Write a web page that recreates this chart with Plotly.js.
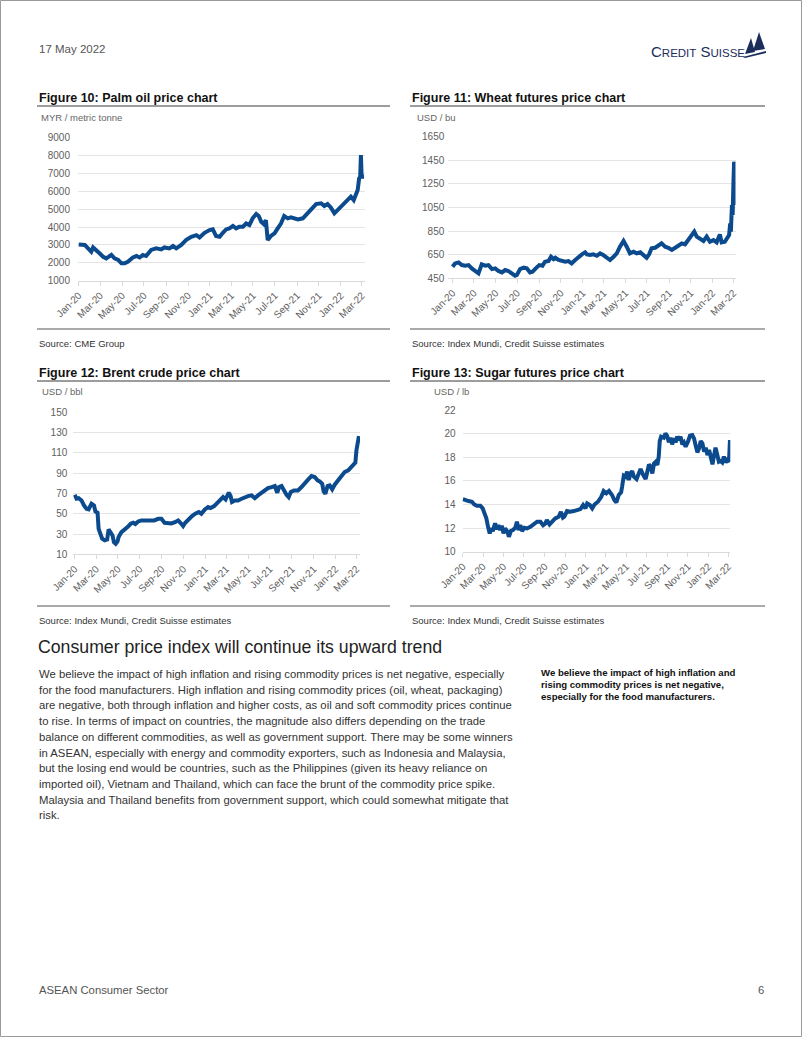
<!DOCTYPE html>
<html>
<head>
<meta charset="utf-8">
<script src="https://cdn.plot.ly/plotly-3.0.1.min.js"></script>
<style>
  html, body { margin: 0; padding: 0; background: #ffffff; }
  #page { width: 802px; height: 1037px; }
</style>
</head>
<body>
<div id="page"></div>
<script>
// ---------------- DATA ----------------
const xTickVals = ['2020-01-01','2020-03-01','2020-05-01','2020-07-01','2020-09-01','2020-11-01',
                   '2021-01-01','2021-03-01','2021-05-01','2021-07-01','2021-09-01','2021-11-01',
                   '2022-01-01','2022-03-01'];
const xTickText = ['Jan-20','Mar-20','May-20','Jul-20','Sep-20','Nov-20',
                   'Jan-21','Mar-21','May-21','Jul-21','Sep-21','Nov-21',
                   'Jan-22','Mar-22'];

// Figure 10: Palm oil (MYR / metric tonne)
const palmDates = ['2020-01-01','2020-01-18','2020-01-27','2020-02-05','2020-02-10','2020-02-19','2020-02-28','2020-03-09','2020-03-18','2020-04-01',
  '2020-04-10','2020-04-20','2020-04-29','2020-05-08','2020-05-17','2020-05-31','2020-06-10','2020-06-19','2020-06-28','2020-07-07',
  '2020-07-21','2020-08-04','2020-08-18','2020-08-27','2020-09-10','2020-09-20','2020-09-29','2020-10-13','2020-10-27','2020-11-10',
  '2020-11-24','2020-12-03','2020-12-17','2020-12-31','2021-01-09','2021-01-18','2021-01-28','2021-02-06','2021-02-15','2021-02-24',
  '2021-03-06','2021-03-15','2021-03-24','2021-04-03','2021-04-12','2021-04-21','2021-04-30','2021-05-10','2021-05-17','2021-05-24',
  '2021-05-31','2021-06-06','2021-06-11','2021-06-20','2021-06-30','2021-07-09','2021-07-18','2021-07-27','2021-08-06','2021-08-15',
  '2021-08-24','2021-09-03','2021-09-17','2021-09-26','2021-10-05','2021-10-14','2021-10-24','2021-11-07','2021-11-16','2021-11-25',
  '2021-12-04','2021-12-14','2021-12-23','2022-01-01','2022-01-11','2022-01-20','2022-01-29','2022-02-06','2022-02-12','2022-02-17',
  '2022-02-21','2022-02-24','2022-02-26','2022-02-28','2022-03-07'];
const palmValues = [3030,3000,2810,2620,2860,2720,2530,2340,2250,2440,
  2250,2160,1970,1970,2060,2300,2380,2300,2440,2380,
  2720,2810,2750,2860,2810,2940,2810,3000,3280,3460,
  3550,3420,3680,3830,3870,3500,3460,3680,3870,3930,
  4060,3930,4020,4020,4200,4110,4490,4730,4620,4300,
  4170,4390,3270,3500,3650,3930,4200,4620,4490,4550,
  4490,4430,4490,4680,4950,5100,5290,5330,5180,5290,
  5100,4770,4950,5140,5330,5510,5700,5510,5800,6070,
  6720,6820,8030,6820,6820];

// Figure 11: Wheat futures (USD / bu)
const wheatDates = ['2020-01-01','2020-01-08','2020-01-18','2020-01-27','2020-02-06','2020-02-15','2020-02-24','2020-03-05','2020-03-14','2020-03-23',
  '2020-04-02','2020-04-11','2020-04-21','2020-04-30','2020-05-09','2020-05-19','2020-05-28','2020-06-06','2020-06-16','2020-06-25',
  '2020-06-30','2020-07-09','2020-07-19','2020-07-28','2020-08-06','2020-08-13','2020-08-22','2020-09-01','2020-09-10','2020-09-17',
  '2020-09-27','2020-10-04','2020-10-11','2020-10-16','2020-10-25','2020-11-03','2020-11-13','2020-11-22','2020-12-01','2020-12-11',
  '2020-12-20','2020-12-30','2021-01-08','2021-01-13','2021-01-22','2021-01-31','2021-02-10','2021-02-19','2021-02-28','2021-03-10',
  '2021-03-19','2021-03-29','2021-04-07','2021-04-16','2021-04-26','2021-05-05','2021-05-14','2021-05-24','2021-06-02','2021-06-12',
  '2021-06-21','2021-06-30','2021-07-07','2021-07-14','2021-07-24','2021-08-02','2021-08-11','2021-08-21','2021-08-30','2021-09-09',
  '2021-09-18','2021-09-27','2021-10-07','2021-10-16','2021-10-25','2021-11-04','2021-11-11','2021-11-18','2021-11-27','2021-12-07',
  '2021-12-16','2021-12-25','2022-01-04','2022-01-13','2022-01-22','2022-01-27','2022-02-05','2022-02-12','2022-02-17','2022-02-20',
  '2022-02-22','2022-02-25','2022-02-27','2022-03-01','2022-03-03','2022-03-05','2022-03-06'];
const wheatValues = [548,576,585,562,557,562,534,512,492,568,
  557,562,528,534,512,500,520,512,492,472,
  478,528,540,534,500,506,534,562,557,590,
  596,633,613,624,605,596,590,596,576,605,
  633,653,670,653,647,653,641,661,647,624,
  605,633,661,718,766,718,661,675,661,670,
  647,624,653,704,709,726,746,718,709,690,
  704,726,746,738,774,811,845,803,783,766,
  803,760,774,755,822,755,760,788,817,916,
  845,1071,986,1240,1438,1353,1071];

// Figure 12: Brent crude (USD / bbl)
const brentDates = ['2020-01-01','2020-01-06','2020-01-12','2020-01-20','2020-01-27','2020-02-03','2020-02-09','2020-02-17','2020-02-24','2020-02-28',
  '2020-03-05','2020-03-08','2020-03-13','2020-03-18','2020-03-25','2020-04-01','2020-04-05','2020-04-11','2020-04-16','2020-04-20',
  '2020-04-25','2020-04-30','2020-05-03','2020-05-11','2020-05-18','2020-05-28','2020-06-06','2020-06-13','2020-06-19','2020-06-27',
  '2020-07-06','2020-07-17','2020-07-29','2020-08-11','2020-08-22','2020-08-31','2020-09-09','2020-09-19','2020-09-28','2020-10-08',
  '2020-10-17','2020-10-26','2020-10-31','2020-11-06','2020-11-16','2020-11-25','2020-12-04','2020-12-14','2020-12-21','2020-12-31',
  '2021-01-09','2021-01-16','2021-01-26','2021-02-04','2021-02-14','2021-02-20','2021-02-27','2021-03-04','2021-03-08','2021-03-13',
  '2021-03-17','2021-03-25','2021-04-03','2021-04-13','2021-04-22','2021-05-01','2021-05-11','2021-05-20','2021-05-29','2021-06-08',
  '2021-06-17','2021-06-26','2021-07-06','2021-07-15','2021-07-22','2021-07-27','2021-08-03','2021-08-10','2021-08-17','2021-08-23',
  '2021-08-29','2021-09-07','2021-09-18','2021-09-28','2021-10-07','2021-10-17','2021-10-26','2021-11-04','2021-11-12','2021-11-18',
  '2021-11-25','2021-11-29','2021-12-04','2021-12-10','2021-12-16','2021-12-23','2021-12-30','2022-01-09','2022-01-18','2022-01-27',
  '2022-02-06','2022-02-15','2022-02-23','2022-02-26','2022-03-01','2022-03-03','2022-03-06','2022-03-08'];
const brentValues = [68.7,64.8,65.4,63.1,58.2,54.9,54.3,59.9,58.2,52.3,
  51.0,35.2,30.2,25.3,23.7,24.6,34.5,31.9,28.6,22.0,
  20.4,22.7,27.0,31.9,34.5,36.8,40.1,41.1,39.8,42.4,
  43.4,43.4,44.1,43.4,45.0,45.0,41.1,41.1,40.4,41.7,
  43.4,40.1,37.8,41.1,45.0,47.7,50.0,51.6,50.0,54.3,
  56.6,55.6,57.5,60.8,64.8,66.4,64.1,68.7,70.7,67.4,
  61.5,63.1,63.1,64.8,66.4,67.4,68.1,65.4,68.1,70.7,
  73.0,75.3,76.3,77.3,70.7,76.3,77.3,72.0,68.7,66.4,
  71.4,73.0,73.0,76.3,80.6,83.9,87.2,86.2,82.9,81.9,
  79.6,72.0,69.7,77.3,77.9,74.0,78.6,82.9,87.8,91.1,
  92.8,96.0,98.3,100.3,112.5,117.4,124.0,126.6];

// Figure 13: Sugar futures (USD / lb)
const sugarDates = ['2020-01-01','2020-01-08','2020-01-18','2020-01-28','2020-02-04','2020-02-12','2020-02-22','2020-02-29','2020-03-05','2020-03-11',
  '2020-03-16','2020-03-21','2020-03-25','2020-03-30','2020-04-06','2020-04-11','2020-04-16','2020-04-21','2020-04-26','2020-05-01',
  '2020-05-06','2020-05-13','2020-05-17','2020-05-23','2020-05-29','2020-06-05','2020-06-10','2020-06-15','2020-06-20','2020-06-25',
  '2020-07-02','2020-07-10','2020-07-20','2020-07-30','2020-08-09','2020-08-19','2020-08-27','2020-09-03','2020-09-07','2020-09-15',
  '2020-09-22','2020-10-02','2020-10-12','2020-10-19','2020-10-25','2020-10-29','2020-11-06','2020-11-16','2020-11-26','2020-12-06',
  '2020-12-16','2020-12-24','2020-12-31','2021-01-05','2021-01-13','2021-01-20','2021-01-27','2021-02-06','2021-02-16','2021-02-23',
  '2021-03-03','2021-03-11','2021-03-20','2021-03-27','2021-04-02','2021-04-09','2021-04-16','2021-04-19','2021-04-24','2021-04-29',
  '2021-05-04','2021-05-09','2021-05-14','2021-05-19','2021-05-24','2021-06-01','2021-06-08','2021-06-13','2021-06-21','2021-06-28',
  '2021-07-03','2021-07-08','2021-07-13','2021-07-18','2021-07-23','2021-07-28','2021-08-02','2021-08-06','2021-08-09','2021-08-13',
  '2021-08-21','2021-08-26','2021-08-31','2021-09-05','2021-09-10','2021-09-15','2021-09-20','2021-09-25','2021-09-30','2021-10-05',
  '2021-10-10','2021-10-15','2021-10-20','2021-10-25','2021-11-01','2021-11-07','2021-11-14','2021-11-19','2021-11-24','2021-11-29',
  '2021-12-04','2021-12-09','2021-12-14','2021-12-19','2021-12-24','2021-12-29','2022-01-03','2022-01-08','2022-01-13','2022-01-17',
  '2022-01-22','2022-01-27','2022-02-01','2022-02-06','2022-02-11','2022-02-16','2022-02-21','2022-02-26','2022-03-03','2022-03-06'];
const sugarValues = [14.46,14.37,14.29,14.23,14.0,13.89,13.89,13.67,13.24,12.82,
  12.11,11.55,11.97,11.75,12.40,11.91,12.25,11.83,12.20,11.55,
  11.97,11.69,11.26,11.75,11.83,12.03,12.54,11.83,12.25,11.75,
  12.03,11.97,12.11,12.31,12.54,12.54,12.25,12.40,12.68,12.31,
  12.54,12.82,12.96,13.38,12.88,12.96,13.44,13.38,13.44,13.52,
  13.61,13.95,13.67,14.09,13.95,13.67,14.0,14.23,14.65,15.14,
  14.94,15.14,14.80,14.37,14.17,14.80,15.02,15.50,16.43,16.35,
  16.77,16.07,16.63,16.83,16.35,16.15,16.55,17.0,16.49,16.15,
  16.77,17.40,17.20,16.63,17.48,17.62,17.34,18.05,19.37,19.74,
  19.65,20.02,19.82,19.26,19.65,19.09,19.6,19.26,19.74,19.46,
  19.74,19.09,19.26,18.89,19.32,19.82,19.88,19.6,18.98,18.41,
  18.75,19.37,19.17,18.47,18.81,18.19,18.61,18.13,17.40,18.05,
  18.81,18.24,17.62,17.68,17.56,18.05,17.56,17.76,17.62,19.46];

// ---------------- TEXT ----------------
const figTitles = ['Figure 10: Palm oil price chart','Figure 11: Wheat futures price chart',
                   'Figure 12: Brent crude price chart','Figure 13: Sugar futures price chart'];
const unitLabels = ['MYR / metric tonne','USD / bu','USD / bbl','USD / lb'];
const sources = ['Source: CME Group','Source: Index Mundi, Credit Suisse estimates',
                 'Source: Index Mundi, Credit Suisse estimates','Source: Index Mundi, Credit Suisse estimates'];
const heading = 'Consumer price index will continue its upward trend';
const bodyLines = [
  'We believe the impact of high inflation and rising commodity prices is net negative, especially',
  'for the food manufacturers. High inflation and rising commodity prices (oil, wheat, packaging)',
  'are negative, both through inflation and higher costs, as oil and soft commodity prices continue',
  'to rise. In terms of impact on countries, the magnitude also differs depending on the trade',
  'balance on different commodities, as well as government support. There may be some winners',
  'in ASEAN, especially with energy and commodity exporters, such as Indonesia and Malaysia,',
  'but the losing end would be countries, such as the Philippines (given its heavy reliance on',
  'imported oil), Vietnam and Thailand, which can face the brunt of the commodity price spike.',
  'Malaysia and Thailand benefits from government support, which could somewhat mitigate that',
  'risk.'];
const sideNote = ['We believe the impact of high inflation and',
                  'rising commodity prices is net negative,',
                  'especially for the food manufacturers.'];

// ---------------- LAYOUT HELPERS ----------------
const W = 802, H = 1037;
const FONT = 'Liberation Sans, Arial, Helvetica, sans-serif';
const LINE = '#0c4a8e';
const X = p => p / W;
const Y = p => 1 - p / H;

const series = [
  {x: palmDates,  y: palmValues},
  {x: wheatDates, y: wheatValues},
  {x: brentDates, y: brentValues},
  {x: sugarDates, y: sugarValues}
];
// pixel geometry per panel
const panels = [
  {x0: 78,    x1: 364.5, yTop: 137.7, yBot: 280.7, range: [1000, 9000], dtick: 1000, xr: ['2019-12-30','2022-03-08'], std: 7,
   titleX: 38,  titleY: 98,  ruleL: 37,  ruleR: 390, unitX: 40,  unitY: 117, srcY: 343, ruleTop: 106, ruleBot: 329},
  {x0: 448.3, x1: 735.5, yTop: 136.7, yBot: 278.3, range: [450, 1650],  dtick: 200,  xr: ['2019-12-20','2022-03-07'], std: 3,
   titleX: 411, titleY: 98,  ruleL: 410, ruleR: 765, unitX: 416, unitY: 117, srcY: 343, ruleTop: 106, ruleBot: 329},
  {x0: 73.3,  x1: 360,   yTop: 412.3, yBot: 554.3, range: [10, 150],    dtick: 20,   xr: ['2019-12-28','2022-03-11'], std: 5,
   titleX: 38,  titleY: 373, ruleL: 37,  ruleR: 390, unitX: 41,  unitY: 391, srcY: 620, ruleTop: 381, ruleBot: 606},
  {x0: 462.5, x1: 730.3, yTop: 410,   yBot: 551.7, range: [10, 22],     dtick: 2,    xr: ['2019-12-31','2022-03-07'], std: 6,
   titleX: 411, titleY: 373, ruleL: 410, ruleR: 765, unitX: 433, unitY: 391, srcY: 620, ruleTop: 381, ruleBot: 606}
];

const traces = [];
const layout = {
  width: W, height: H, autosize: false,
  margin: {l: 0, r: 0, t: 0, b: 0, pad: 0},
  paper_bgcolor: '#ffffff', plot_bgcolor: 'rgba(0,0,0,0)',
  showlegend: false,
  font: {family: FONT, color: '#333333'},
  annotations: [], shapes: []
};

function txt(x, y, text, size, color, extra) {
  layout.annotations.push(Object.assign({
    xref: 'paper', yref: 'paper', x: X(x), y: Y(y), text: text,
    showarrow: false, xanchor: 'left', yanchor: 'middle',
    font: {family: FONT, size: size, color: color}, borderpad: 0
  }, extra || {}));
}
function hline(x0, x1, y, color, w) {
  layout.shapes.push({type: 'line', xref: 'paper', yref: 'paper',
    x0: X(x0), x1: X(x1), y0: Y(y), y1: Y(y), line: {color: color, width: w}});
}

panels.forEach((p, i) => {
  const n = i === 0 ? '' : String(i + 1);
  traces.push({
    type: 'scatter', mode: 'lines', x: series[i].x, y: series[i].y,
    xaxis: 'x' + n, yaxis: 'y' + n,
    line: {color: LINE, width: 4, shape: 'linear'},
    hoverinfo: 'skip'
  });
  layout['xaxis' + n] = {
    type: 'date', domain: [X(p.x0), X(p.x1)], range: p.xr, anchor: 'y' + n,
    tickmode: 'array', tickvals: xTickVals, ticktext: xTickText, tickangle: -45,
    tickfont: {family: FONT, size: 10, color: '#606060'},
    showgrid: false, zeroline: false, showline: true, linecolor: '#d9d9d9', linewidth: 1,
    ticks: 'outside', ticklen: 4, tickcolor: '#d9d9d9', tickwidth: 1,
    automargin: false, fixedrange: true
  };
  layout['yaxis' + n] = {
    domain: [Y(p.yBot), Y(p.yTop)], range: p.range, anchor: 'x' + n,
    tickmode: 'linear', tick0: p.range[0], dtick: p.dtick,
    showgrid: true, gridcolor: '#e4e4e4', gridwidth: 1,
    zeroline: false, showline: false, ticks: '', ticklabelstandoff: p.std,
    tickfont: {family: FONT, size: 10, color: '#606060'},
    automargin: false, fixedrange: true
  };
  txt(p.titleX, p.titleY, figTitles[i], 12.5, '#111111', {font: {family: FONT, size: 12.5, color: '#111111', weight: 'bold'}});
  hline(p.ruleL, p.ruleR, p.ruleTop, '#3a3a3a', 1);
  txt(p.unitX, p.unitY, unitLabels[i], 9.5, '#666666');
  hline(p.ruleL, p.ruleR, p.ruleBot, '#555555', 1);
  txt(p.titleX, p.srcY, sources[i], 9.5, '#333333');
});

// page header / footer
txt(38, 49, '17 May 2022', 11.5, '#555555');
layout.annotations.push({
  xref: 'paper', yref: 'paper', x: X(746), y: Y(51), xanchor: 'right', yanchor: 'middle',
  showarrow: false, borderpad: 0,
  text: "C<span style='font-size:11.5px'>REDIT</span> S<span style='font-size:11.5px'>UISSE</span>",
  font: {family: FONT, size: 15, color: '#1b2d5b'}
});
// sail logo
function pathPx(pts) {
  return 'M ' + pts.map(q => X(q[0]) + ' ' + Y(q[1])).join(' L ') + ' Z';
}
layout.shapes.push({type: 'path', xref: 'paper', yref: 'paper', path: pathPx([[745, 54], [751, 38], [755, 52]]),
  fillcolor: '#1b2d5b', line: {width: 0}});
layout.shapes.push({type: 'path', xref: 'paper', yref: 'paper', path: pathPx([[753, 51], [759, 32], [765, 49]]),
  fillcolor: '#1b2d5b', line: {width: 0}});
layout.shapes.push({type: 'path', xref: 'paper', yref: 'paper', path: pathPx([[743, 57], [766, 51], [766, 53], [745, 58]]),
  fillcolor: '#1b2d5b', line: {width: 0}});

// section heading and body
txt(37, 647, heading, 17.7, '#222222');
bodyLines.forEach((t, k) => txt(38, 674 + k * 15.7, t, 11.3, '#333333'));
sideNote.forEach((t, k) => txt(540, 672 + k * 12, t, 9.6, '#111111', {font: {family: FONT, size: 9.6, color: '#111111', weight: 'bold'}}));

txt(38, 990, 'ASEAN Consumer Sector', 11.3, '#555555');
txt(757, 990, '6', 11.3, '#555555');

// page border
layout.shapes.push({type: 'rect', xref: 'paper', yref: 'paper', x0: X(0.5), x1: X(801.5), y0: Y(0.5), y1: Y(1036.5),
  line: {color: '#9a9a9a', width: 1}, fillcolor: 'rgba(0,0,0,0)'});

Plotly.newPlot('page', traces, layout, {staticPlot: true, displayModeBar: false});
</script>
</body>
</html>
